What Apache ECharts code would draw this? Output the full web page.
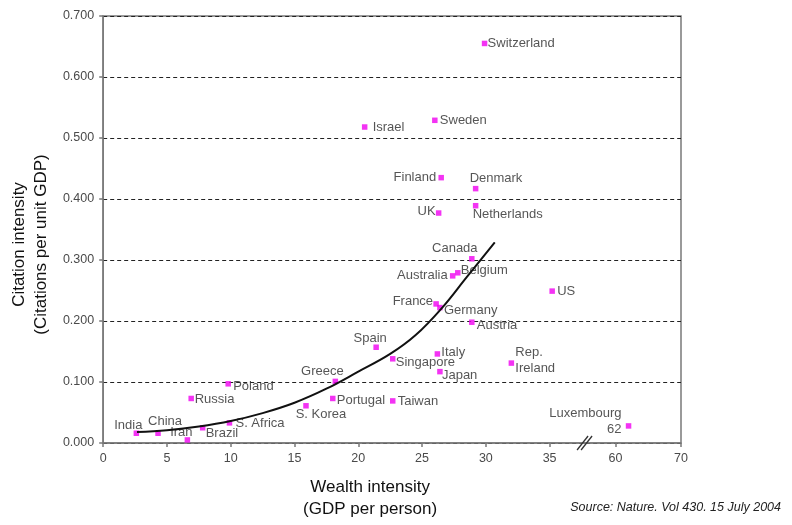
<!DOCTYPE html>
<html>
<head>
<meta charset="utf-8">
<title>Citation intensity vs wealth intensity</title>
<script src="https://cdn.jsdelivr.net/npm/echarts@6/dist/echarts.min.js"></script>
<style>
  html, body { margin: 0; padding: 0; background: #ffffff; }
  #chart { width: 792px; height: 525px; }
</style>
</head>
<body>
<div id="chart"></div>
<script>
// Countries: wealth intensity (GDP per person, thousands) and citations per unit GDP
const countries = ['India', 'China', 'Iran', 'Brazil', 'Russia', 'Poland', 'S. Africa',
  'S. Korea', 'Greece', 'Portugal', 'Taiwan', 'Spain', 'Singapore', 'Italy', 'Japan',
  'France', 'Germany', 'Austria', 'Australia', 'Belgium', 'Canada', 'UK', 'Netherlands',
  'Denmark', 'Finland', 'Sweden', 'Israel', 'Switzerland', 'US', 'Rep.\nIreland', 'Luxembourg\n62'];
const wealth = [2.6, 4.3, 6.6, 7.8, 6.9, 9.8, 9.9,
  15.9, 18.2, 18.0, 22.7, 21.4, 22.7, 26.2, 26.4,
  26.1, 26.4, 28.9, 27.4, 27.8, 28.9, 26.3, 29.2,
  29.2, 26.5, 26.0, 20.5, 29.9, 35.2, 32.0, 62];
const citations = [0.016, 0.016, 0.005, 0.025, 0.073, 0.097, 0.033,
  0.061, 0.101, 0.073, 0.069, 0.157, 0.138, 0.146, 0.117,
  0.228, 0.222, 0.198, 0.274, 0.279, 0.302, 0.377, 0.389,
  0.417, 0.435, 0.529, 0.518, 0.655, 0.249, 0.131, 0.028];

// Fitted trend curve, sampled along its path
const trendX = [2.65, 5, 7.5, 10, 12.5, 15, 17.5, 20, 22.5, 24.5, 26.5, 28.5, 30.7];
const trendY = [0.018, 0.021, 0.027, 0.036, 0.049, 0.066, 0.089, 0.117, 0.146, 0.177, 0.220, 0.272, 0.329];

// Axis ticks
const xTicks = [0, 5, 10, 15, 20, 25, 30, 35, 60, 70];
const yTicks = [0, 0.1, 0.2, 0.3, 0.4, 0.5, 0.6, 0.7];

// Label placement per country: [text align, dx, dy] from the marker centre
const labelPlace = {
  'India': ['center', -8, -8], 'China': ['center', 7, -12], 'Iran': ['center', -6, -8],
  'Brazil': ['left', 3, 6], 'Russia': ['left', 3.5, 1], 'Poland': ['left', 5, 3],
  'S. Africa': ['left', 6, 1], 'S. Korea': ['center', 15, 9], 'Greece': ['center', -13, -10],
  'Portugal': ['left', 4, 2], 'Taiwan': ['left', 5, 1], 'Spain': ['center', -6, -9],
  'Singapore': ['left', 3, 4], 'Italy': ['left', 4, -2], 'Japan': ['left', 2, 3.5],
  'France': ['right', -3, -2], 'Germany': ['left', 4, 3], 'Austria': ['left', 5, 3],
  'Australia': ['right', -5, 0], 'Belgium': ['left', 3, -2], 'Canada': ['center', -17, -10],
  'UK': ['right', -3, -2], 'Netherlands': ['left', -3, 9], 'Denmark': ['left', -6, -10],
  'Finland': ['right', -5, 0], 'Sweden': ['left', 5, 0], 'Israel': ['left', 8, 0],
  'Switzerland': ['left', 3, 0], 'US': ['left', 5, 0], 'Rep.\nIreland': ['left', 4, -3],
  'Luxembourg\n62': ['right', -7, -4]
};

// Broken x axis: 0-35 at full scale, 60-70 compressed after the break
const BREAK_AT = 37.5;
function toAxis(v) { return v <= BREAK_AT ? v : 40.16 + (v - 60) * 0.514; }
function fromAxis(p) { return p <= BREAK_AT ? p : 60 + (p - 40.16) / 0.514; }

const FONT = 'Liberation Sans, Arial, Helvetica, sans-serif';

const points = countries.map(function (name, i) {
  const place = labelPlace[name];
  return {
    name: name,
    value: [toAxis(wealth[i]), citations[i]],
    label: {
      show: true,
      position: 'inside',
      align: place[0],
      verticalAlign: 'middle',
      offset: [place[1], place[2]],
      formatter: name,
      lineHeight: 16
    }
  };
});

const trend = trendX.map(function (x, i) { return [toAxis(x), trendY[i]]; });

const chart = echarts.init(document.getElementById('chart'), null, { renderer: 'canvas' });

chart.setOption({
  animation: false,
  backgroundColor: '#ffffff',
  textStyle: { fontFamily: FONT },
  grid: {
    left: 101, right: 111, top: 16, bottom: 79,
    show: true, borderColor: '#7a7a7a', borderWidth: 1.5, backgroundColor: 'transparent'
  },
  title: {
    text: 'Source: Nature. Vol 430. 15 July 2004',
    right: 6, top: 496,
    textStyle: { fontFamily: FONT, fontSize: 12.5, fontStyle: 'italic', fontWeight: 'normal', color: '#222' }
  },
  xAxis: {
    type: 'value',
    min: 0,
    max: toAxis(70),
    name: 'Wealth intensity\n(GDP per person)',
    nameLocation: 'middle',
    nameGap: 33,
    nameTextStyle: { fontFamily: FONT, fontSize: 17, color: '#111', lineHeight: 22, padding: [0, 44, 0, 0] },
    axisLine: { show: true, lineStyle: { color: '#7a7a7a', width: 1.5 } },
    axisTick: { show: true, length: 4, lineStyle: { color: '#7a7a7a', width: 1.5 }, customValues: xTicks.map(toAxis) },
    axisLabel: {
      color: '#4a4a4a', fontSize: 12.5, margin: 9,
      customValues: xTicks.map(toAxis),
      formatter: function (p) { return String(Math.round(fromAxis(p))); }
    },
    splitLine: { show: false }
  },
  yAxis: {
    type: 'value',
    min: 0, max: 0.7, interval: 0.1,
    name: 'Citation intensity\n(Citations per unit GDP)',
    nameLocation: 'middle',
    nameRotate: 90,
    nameGap: 48,
    nameTextStyle: { fontFamily: FONT, fontSize: 17, color: '#111', lineHeight: 22, padding: [0, 30, 0, 0] },
    axisLine: { show: true, lineStyle: { color: '#7a7a7a', width: 1.5 } },
    axisTick: { show: true, length: 4, lineStyle: { color: '#7a7a7a', width: 1.5 } },
    axisLabel: {
      color: '#4a4a4a', fontSize: 12.5, margin: 9,
      customValues: yTicks,
      formatter: function (v) { return v.toFixed(3); }
    },
    splitLine: { show: true, lineStyle: { color: '#222', width: 1, type: [4, 3] } }
  },
  series: [
    {
      type: 'scatter',
      symbol: 'rect',
      symbolSize: [5.5, 5.5],
      itemStyle: { color: '#f000f0' },
      label: { fontFamily: FONT, fontSize: 13, color: '#2a2a2a' },
      data: points,
      z: 3
    },
    {
      type: 'line',
      smooth: 0.4,
      showSymbol: false,
      lineStyle: { color: '#111', width: 2 },
      data: trend,
      z: 4
    }
  ]
});

// Break marks on the x axis between 35 and 60
const b = chart.convertToPixel({ gridIndex: 0 }, [(35 + toAxis(60)) / 2 + 0.2, 0]);
chart.setOption({
  graphic: [
    { type: 'line', shape: { x1: b[0] - 8, y1: b[1] + 7, x2: b[0] + 3, y2: b[1] - 7 }, style: { stroke: '#333', lineWidth: 1.3 }, z: 10 },
    { type: 'line', shape: { x1: b[0] - 4, y1: b[1] + 7, x2: b[0] + 7, y2: b[1] - 7 }, style: { stroke: '#333', lineWidth: 1.3 }, z: 10 }
  ]
});
</script>
</body>
</html>
